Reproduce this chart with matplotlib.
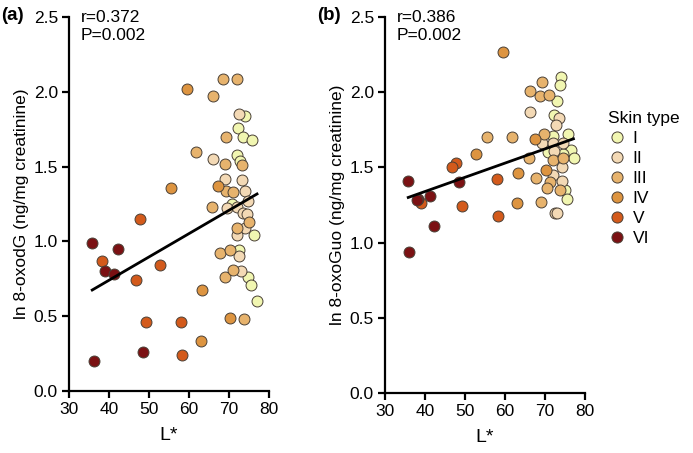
import matplotlib.pyplot as plt
from matplotlib.lines import Line2D

plt.rcParams['font.family'] = ['Liberation Sans', 'DejaVu Sans']

skin_types = ['I', 'II', 'III', 'IV', 'V', 'VI']
colors = ['#f1f6b1', '#f3d9b5', '#e7b36d', '#dd9440', '#d35a1b', '#7b1113']

# panel (a): L* vs ln 8-oxodG, per skin type
a_I_x = [74, 72.2, 73.6, 75.7, 71.9, 72.75, 70.8, 76.3, 72.5, 74.8, 75.4, 77.1]
a_I_y = [1.84, 1.755, 1.70, 1.68, 1.58, 1.54, 1.25, 1.04, 0.94, 0.76, 0.71, 0.60]
a_II_x = [72.5, 66.1, 69, 73.2, 74, 69.4, 72.1, 74.8, 73.6, 74.6, 74, 71.9, 72.5, 72.9]
a_II_y = [1.85, 1.55, 1.42, 1.41, 1.34, 1.22, 1.23, 1.27, 1.19, 1.18, 1.09, 1.04, 0.90, 0.80]
a_III_x = [68.6, 71.9, 66.1, 69.2, 61.75, 68.9, 73.3, 69.2, 71.1, 65.8, 75.1, 71.9, 67.75, 70.25, 69, 71.1, 73.75]
a_III_y = [2.085, 2.085, 1.97, 1.695, 1.60, 1.52, 1.51, 1.337, 1.33, 1.23, 1.13, 1.09, 0.925, 0.94, 0.76, 0.81, 0.48]
a_IV_x = [59.4, 55.4, 67.3, 63.2, 70.25, 63]
a_IV_y = [2.02, 1.355, 1.37, 0.675, 0.49, 0.336]
a_V_x = [38.3, 47.8, 52.8, 46.8, 49.3, 58.1, 58.3]
a_V_y = [0.87, 1.15, 0.84, 0.74, 0.46, 0.46, 0.24]
a_VI_x = [35.8, 42.3, 39, 41.3, 48.5, 36.2]
a_VI_y = [0.99, 0.95, 0.80, 0.78, 0.26, 0.20]
a_fit_x = [35.8, 77]
a_fit_y = [0.675, 1.317]

# panel (b): L* vs ln 8-oxoGuo, per skin type
b_I_x = [74, 73.75, 73.1, 72.25, 72.1, 75.75, 70.8, 76.5, 74.6, 77.3, 75, 75.5]
b_I_y = [2.10, 2.05, 1.94, 1.85, 1.71, 1.72, 1.60, 1.615, 1.59, 1.56, 1.35, 1.29]
b_II_x = [66.25, 73.6, 72.7, 69.2, 72.1, 74.6, 72.25, 74.2, 71.9, 74.2, 72.5, 72.9]
b_II_y = [1.87, 1.83, 1.78, 1.66, 1.66, 1.66, 1.61, 1.50, 1.45, 1.41, 1.20, 1.20]
b_III_x = [69.2, 66.25, 68.75, 71.1, 55.4, 61.7, 69.8, 66, 72.1, 74.4, 67.7, 71.25, 70.4, 73.75, 69.1]
b_III_y = [2.07, 2.01, 1.975, 1.98, 1.70, 1.70, 1.72, 1.56, 1.55, 1.56, 1.43, 1.40, 1.365, 1.35, 1.27]
b_IV_x = [59.4, 52.75, 63.2, 70.25, 67.5, 63.1]
b_IV_y = [2.27, 1.59, 1.465, 1.48, 1.69, 1.26]
b_V_x = [47.75, 46.75, 58.1, 39, 49.3, 58.3]
b_V_y = [1.53, 1.50, 1.42, 1.265, 1.24, 1.18]
b_VI_x = [35.75, 41.25, 38.3, 37.9, 48.5, 42.25, 36.1]
b_VI_y = [1.41, 1.31, 1.29, 1.28, 1.40, 1.11, 0.94]
b_fit_x = [35.8, 77.1]
b_fit_y = [1.30, 1.69]

a_groups = [(a_I_x, a_I_y), (a_II_x, a_II_y), (a_III_x, a_III_y),
            (a_IV_x, a_IV_y), (a_V_x, a_V_y), (a_VI_x, a_VI_y)]
b_groups = [(b_I_x, b_I_y), (b_II_x, b_II_y), (b_III_x, b_III_y),
            (b_IV_x, b_IV_y), (b_V_x, b_V_y), (b_VI_x, b_VI_y)]

fig = plt.figure(figsize=(6.93, 4.53), dpi=100)
ax1 = fig.add_axes([0.0996, 0.1369, 0.2886, 0.8256])
ax2 = fig.add_axes([0.5556, 0.1325, 0.2886, 0.8300])


def draw(ax, groups, fit_x, fit_y, ylabel, r_text):
    for (xs, ys), c in zip(groups, colors):
        ax.scatter(xs, ys, s=62, color=c, edgecolor='#4a4036', linewidth=0.7,
                   zorder=3, clip_on=False)
    ax.plot(fit_x, fit_y, color='black', linewidth=2, zorder=4)
    ax.set_xlim(30, 80)
    ax.set_ylim(0, 2.5)
    ax.set_xticks([30, 40, 50, 60, 70, 80])
    ax.set_yticks([0, 0.5, 1.0, 1.5, 2.0, 2.5])
    ax.set_yticklabels(['0.0', '0.5', '1.0', '1.5', '2.0', '2.5'])
    for s in ['top', 'right']:
        ax.spines[s].set_visible(False)
    for s in ['left', 'bottom']:
        ax.spines[s].set_linewidth(1.6)
    ax.tick_params(width=1.6, length=5, labelsize=12.5, pad=3)
    ax.set_xlabel('L*', fontsize=14, labelpad=7)
    ax.set_ylabel(ylabel, fontsize=12.5, labelpad=3)
    ax.text(0.06, 1.018, r_text, transform=ax.transAxes, fontsize=12.5,
            va='top', ha='left', linespacing=1.2)


draw(ax1, a_groups, a_fit_x, a_fit_y, 'ln 8-oxodG (ng/mg creatinine)',
     'r=0.372\nP=0.002')
draw(ax2, b_groups, b_fit_x, b_fit_y, 'ln 8-oxoGuo (ng/mg creatinine)',
     'r=0.386\nP=0.002')

fig.text(0.002, 0.985, '(a)', fontsize=13.5, fontweight='bold', va='top')
fig.text(0.458, 0.985, '(b)', fontsize=13.5, fontweight='bold', va='top')

handles = [Line2D([], [], marker='o', linestyle='none', markersize=8,
                  markerfacecolor=c, markeredgecolor='#4a4036',
                  markeredgewidth=0.7) for c in colors]
leg = fig.legend(handles, skin_types, title='Skin type', loc='upper left',
                 bbox_to_anchor=(0.868, 0.77), frameon=False, fontsize=12.5,
                 title_fontsize=12.5, handletextpad=0.4, labelspacing=0.28,
                 borderaxespad=0, alignment='left', handlelength=1.0)

fig.savefig('out.png', dpi=100)
